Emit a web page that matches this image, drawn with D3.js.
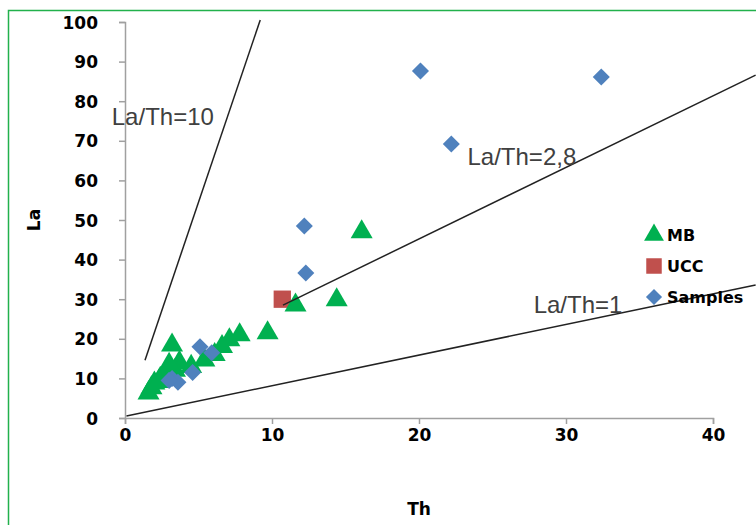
<!DOCTYPE html>
<html>
<head>
<meta charset="utf-8">
<script src="https://cdn.jsdelivr.net/npm/d3@7"></script>
<style>
  html, body { margin: 0; padding: 0; background: #fff; }
  svg { display: block; }
</style>
</head>
<body>
<svg id="chart" width="756" height="525"></svg>
<script>
// Th (ppm) and La (ppm) values per group
const mbTh = [16.1, 14.4, 11.6, 9.7, 7.8, 7.1, 6.6, 6.1, 5.4, 3.2, 3.7, 3.4, 2.4, 1.8, 1.6, 2.0, 2.7, 4.5, 3.0, 2.3];
const mbLa = [47.0, 29.8, 28.5, 21.5, 21.0, 19.7, 18.0, 16.0, 14.6, 18.4, 14.0, 12.0, 10.0, 7.6, 6.3, 8.8, 10.8, 13.0, 13.5, 9.2];

const uccTh = [10.7];
const uccLa = [30.0];

const sampleTh = [20.1, 32.4, 22.2, 12.2, 12.3, 5.1, 5.9, 4.6, 3.2, 3.6, 3.0];
const sampleLa = [87.6, 86.1, 69.2, 48.5, 36.6, 18.0, 16.5, 11.5, 10.0, 9.0, 9.5];

// Reference ratio lines: label and end points [Th, La]
const ratioLabels = ["La/Th=10", "La/Th=2,8", "La/Th=1"];
const ratioStart = [[1.36, 14.6], [10.75, 28.5], [0.1, 0.5]];
const ratioEnd   = [[9.2, 100.5], [42.9, 86.6], [42.9, 33.6]];
const ratioLabelAt = [[-0.9, 74.0], [23.3, 64.0], [27.8, 26.6]];

const xTicks = [0, 10, 20, 30, 40];
const yTicks = [0, 10, 20, 30, 40, 50, 60, 70, 80, 90, 100];

const svg = d3.select("#chart");
const x = d3.scaleLinear().domain([0, 40]).range([125, 713]);
const y = d3.scaleLinear().domain([0, 100]).range([418, 22]);

const tickFont = "'DejaVu Sans', Verdana, sans-serif";

// outer frame
svg.append("path")
  .attr("d", "M8.5,525 L8.5,10.5 L756,10.5")
  .attr("fill", "none")
  .attr("stroke", "#22b14c")
  .attr("stroke-width", 1.5);

// axes
const xAxis = d3.axisBottom(x).tickValues(xTicks).tickSize(6).tickPadding(5);
const yAxis = d3.axisLeft(y).tickValues(yTicks).tickSize(6).tickPadding(21);

const gx = svg.append("g").attr("transform", `translate(0,${y(0)})`).call(xAxis);
const gy = svg.append("g").attr("transform", `translate(${x(0)},0)`).call(yAxis);

[gx, gy].forEach(g => {
  g.select(".domain").attr("stroke", "#a0a0a0").attr("stroke-width", 1.5);
  g.selectAll(".tick line").attr("stroke", "#a0a0a0").attr("stroke-width", 1.5);
  g.selectAll(".tick text")
    .attr("fill", "#000")
    .attr("font-family", tickFont)
    .attr("font-weight", "bold")
    .attr("font-size", 17);
});
gy.selectAll(".tick text").attr("dy", "0.36em");

// axis titles
svg.append("text")
  .attr("x", 419).attr("y", 515)
  .attr("text-anchor", "middle")
  .attr("font-family", tickFont).attr("font-weight", "bold").attr("font-size", 17)
  .text("Th");
svg.append("text")
  .attr("transform", "translate(40,220) rotate(-90)")
  .attr("text-anchor", "middle")
  .attr("font-family", tickFont).attr("font-weight", "bold").attr("font-size", 17)
  .text("La");

// markers (diamonds are squares turned 45 degrees)
const tri = d3.symbol().type(d3.symbolTriangle).size(210);
const sq = d3.symbol().type(d3.symbolSquare).size(300);
const dia = d3.symbol().type(d3.symbolSquare).size(145);

function addMarkers(th, la, sym, color, rot) {
  svg.append("g").selectAll("path")
    .data(th.map((t, i) => [t, la[i]]))
    .join("path")
    .attr("d", sym)
    .attr("transform", d => `translate(${x(d[0])},${y(d[1])}) rotate(${rot})`)
    .attr("fill", color);
}
addMarkers(uccTh, uccLa, sq, "#c0504d", 0);
addMarkers(mbTh, mbLa, tri, "#00b050", 0);
addMarkers(sampleTh, sampleLa, dia, "#4f81bd", 45);

// ratio lines and labels
ratioLabels.forEach((lab, i) => {
  svg.append("line")
    .attr("x1", x(ratioStart[i][0])).attr("y1", y(ratioStart[i][1]))
    .attr("x2", x(ratioEnd[i][0])).attr("y2", y(ratioEnd[i][1]))
    .attr("stroke", "#222").attr("stroke-width", 1.5);
  svg.append("text")
    .attr("x", x(ratioLabelAt[i][0])).attr("y", y(ratioLabelAt[i][1]))
    .attr("font-family", "'Liberation Sans', Arial, sans-serif")
    .attr("font-size", 24)
    .attr("fill", "#404040")
    .text(lab);
});

// legend
const legendNames = ["MB", "UCC", "Samples"];
const legendSyms = [
  d3.symbol().type(d3.symbolTriangle).size(170)(),
  d3.symbol().type(d3.symbolSquare).size(240)(),
  d3.symbol().type(d3.symbolSquare).size(130)()
];
const legendRot = [0, 0, 45];
const legendColors = ["#00b050", "#c0504d", "#4f81bd"];
const lg = svg.append("g").attr("transform", "translate(654,235)");
legendNames.forEach((n, i) => {
  const row = lg.append("g").attr("transform", `translate(0,${i * 31})`);
  row.append("path")
    .attr("d", legendSyms[i])
    .attr("transform", `rotate(${legendRot[i]})`)
    .attr("fill", legendColors[i]);
  row.append("text")
    .attr("x", 13).attr("y", 0).attr("dy", "0.36em")
    .attr("font-family", tickFont).attr("font-weight", "bold").attr("font-size", 16)
    .attr("fill", "#000")
    .text(n);
});
</script>
</body>
</html>
